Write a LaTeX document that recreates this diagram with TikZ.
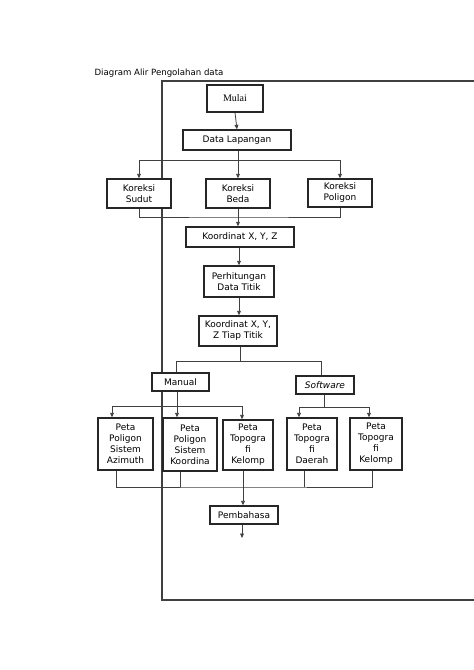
\documentclass[tikz,border=0pt]{standalone}
\usepackage{fontspec}
\setmainfont{DejaVu Sans}
\newfontfamily\serifm{Liberation Serif}
\usetikzlibrary{arrows.meta}
\begin{document}
\begin{tikzpicture}[x=1pt,y=-1pt,
  box/.style={draw=black!85, fill=white, line width=1.3pt, inner sep=0pt, align=center,
    font=\fontsize{9}{11}\selectfont},
  conn/.style={draw=black!75, line width=0.8pt},
  arr/.style={conn, -{Triangle[length=4.5pt,width=3.8pt]}},
  frame/.style={draw=black!75, line width=1.3pt}]
\useasboundingbox (0,0) rectangle (474,670);
\fill[white] (0,0) rectangle (474,670);

\node[anchor=west, font=\fontsize{8.6}{10}\selectfont] (title) at (91,73) {Diagram Alir Pengolahan data};
\draw[frame] (474,81) -- (162,81) -- (162,600) -- (474,600);

\coordinate (j1) at (238,160);
\coordinate (j2) at (238,217);
\coordinate (j3) at (240,361);
\coordinate (j4) at (177,406);
\coordinate (j5) at (324,407);
\coordinate (j6) at (243,487);
\coordinate (endp) at (242,538);

\node[box, minimum width=56, minimum height=27, font=\serifm\fontsize{10}{12}\selectfont] (mulai) at (235,98.5) {Mulai};
\node[box, minimum width=108, minimum height=20] (datalap) at (237,140) {Data Lapangan};
\node[box, minimum width=64, minimum height=29] (ksudut) at (139,193.5) {Koreksi\\Sudut};
\node[box, minimum width=64, minimum height=29] (kbeda) at (238,193.5) {Koreksi\\Beda};
\node[box, minimum width=64, minimum height=28] (kpoligon) at (340,193) {Koreksi\\Poligon};
\node[box, minimum width=108, minimum height=20] (koord) at (240,237) {Koordinat X, Y, Z};
\node[box, minimum width=70, minimum height=31] (perhit) at (239,281.5) {Perhitungan\\Data Titik};
\node[box, minimum width=78, minimum height=30] (tiap) at (238,331) {Koordinat X, Y,\\Z Tiap Titik};
\node[box, minimum width=57, minimum height=18] (manual) at (180.5,382) {Manual};
\node[box, minimum width=58, minimum height=18] (software) at (325,385) {\itshape Software};
\node[box, minimum width=55, minimum height=52] (p1) at (125.5,444) {Peta\\Poligon\\Sistem\\Azimuth};
\node[box, minimum width=54, minimum height=53] (p2) at (190,444.5) {Peta\\Poligon\\Sistem\\Koordina};
\node[box, minimum width=50, minimum height=50] (p3) at (248,445) {Peta\\Topogra\\fi\\Kelomp};
\node[box, minimum width=50, minimum height=52] (p4) at (312,444) {Peta\\Topogra\\fi\\Daerah};
\node[box, minimum width=52, minimum height=52] (p5) at (376,444) {Peta\\Topogra\\fi\\Kelomp};
\node[box, minimum width=68, minimum height=18] (pemb) at (244,515) {Pembahasa};

% top part
\draw[arr] (mulai.south) -- (datalap.north);
\draw[arr] (datalap.south -| kbeda.north) -- (kbeda.north);
\draw[arr] (j1) -| (ksudut.north);
\draw[arr] (j1) -| (kpoligon.north);
\draw[conn] (ksudut.south) |- (j2) -| (kpoligon.south);
\draw[arr] (kbeda.south) -- (kbeda.south |- koord.north);
\draw[arr] (koord.south -| perhit.north) -- (perhit.north);
\draw[arr] (perhit.south) -- (perhit.south |- tiap.north);

% manual / software
\draw[conn] (tiap.south -| j3) -- (j3);
\draw[conn] (j3) -| ([xshift=-4.5]manual.north);
\draw[conn] (j3) -| ([xshift=-4]software.north);
\draw[arr] ([xshift=-3.5]manual.south) -- ([xshift=-3.5]manual.south |- p2.north);
\draw[arr] (j4) -| ([xshift=-13.5]p1.north);
\draw[arr] (j4) -| ([xshift=-6]p3.north);
\draw[conn] (software.south -| j5) -- (j5);
\draw[arr] (j5) -| ([xshift=-13]p4.north);
\draw[arr] (j5) -| ([xshift=-7]p5.north);

% bottom
\draw[conn] ([xshift=-9.5]p1.south) |- (j6) -| ([xshift=-4]p5.south);
\draw[conn] ([xshift=-10]p2.south) -- ([xshift=-10]p2.south |- j6);
\draw[conn] ([xshift=-8]p4.south) -- ([xshift=-8]p4.south |- j6);
\draw[arr] ([xshift=-5]p3.south) -- ([xshift=-5]p3.south |- pemb.north);
\draw[arr] (pemb.south -| endp) -- (endp);
\end{tikzpicture}
\end{document}
